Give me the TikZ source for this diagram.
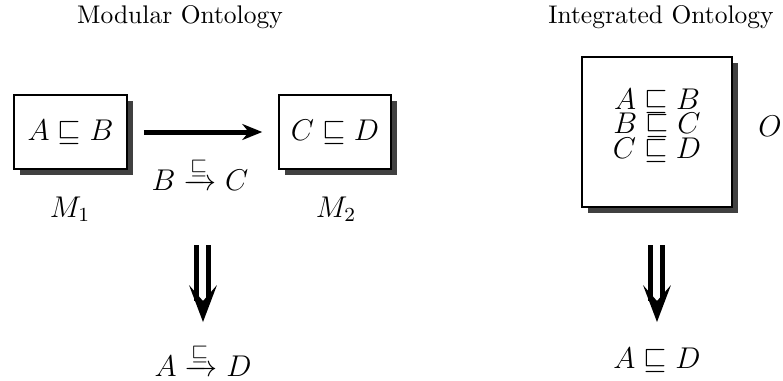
\documentclass[tikz,border=0pt]{standalone}
\usepackage{amsmath,amssymb}
\usetikzlibrary{arrows.meta,shadows}
\tikzset{
  mbox/.style={draw, line width=0.6pt, fill=white, inner sep=0pt,
    drop shadow={shadow xshift=2.4pt, shadow yshift=-2.4pt, fill=black!75, opacity=1}},
  mtxt/.style={font=\fontsize{11.8}{10}\selectfont, inner sep=0pt, align=center},
  ttl/.style={font=\fontsize{10.2}{12}\selectfont, inner sep=0pt},
  dshaft/.style={line width=2pt, double distance=2.8pt, draw=black, double=white},
  harrow/.style={line width=2pt, -{Stealth[length=8pt,width=6.4pt]}, shorten <=6.4pt, shorten >=6.4pt}
}
\begin{document}
\begin{tikzpicture}[x=0.4pt,y=-0.4pt]
\useasboundingbox (0,0) rectangle (783,381);
% titles
\node[ttl] (t1) at (180,17) {Modular Ontology};
\node[ttl] (t2) at (661,17) {Integrated Ontology};
% modular boxes
\node[mbox, minimum width=45.2pt, minimum height=29.6pt] (m1) at (70.5,132) {};
\node[mtxt] (m1t) at (70.5,132) {$A \sqsubseteq B$};
\node[mbox, minimum width=44.8pt, minimum height=29.6pt] (m2) at (335,132) {};
\node[mtxt] (m2t) at (335,132) {$C \sqsubseteq D$};
\draw[harrow] (m1.east) -- (m2.west);
\node[mtxt] (lab) at (200,174) {$B \xrightarrow{\sqsubseteq} C$};
\node[mtxt] (m1l) at (70,209) {$M_1$};
\node[mtxt] (m2l) at (336,209) {$M_2$};
% integrated box
\node[mbox, minimum width=60pt, minimum height=60pt] (o) at (657,132) {};
\node[mtxt, anchor=base] (ot1) at (657,109) {$A \sqsubseteq B$};
\node[mtxt, anchor=base] (ot2) at (657,133.5) {$B \sqsubseteq C$};
\node[mtxt, anchor=base] (ot3) at (657,158) {$C \sqsubseteq D$};
\node[mtxt] (ol) at (770,126) {$O$};
% results
\node[mtxt] (r1) at (203,360) {$A \xrightarrow{\sqsubseteq} D$};
\node[mtxt] (r2) at (657,360) {$A \sqsubseteq D$};
% double arrows
\coordinate (s1) at (203,245);
\coordinate (h1) at (203,301);
\draw[dshaft] (s1) -- (h1);
\fill (h1) ++(0,21) -- ++(-14,-37) -- ++(14,16) -- ++(14,-16) -- cycle;
\coordinate (s2) at (657,245);
\coordinate (h2) at (657,301);
\draw[dshaft] (s2) -- (h2);
\fill (h2) ++(0,21) -- ++(-14,-37) -- ++(14,16) -- ++(14,-16) -- cycle;
\end{tikzpicture}
\end{document}
